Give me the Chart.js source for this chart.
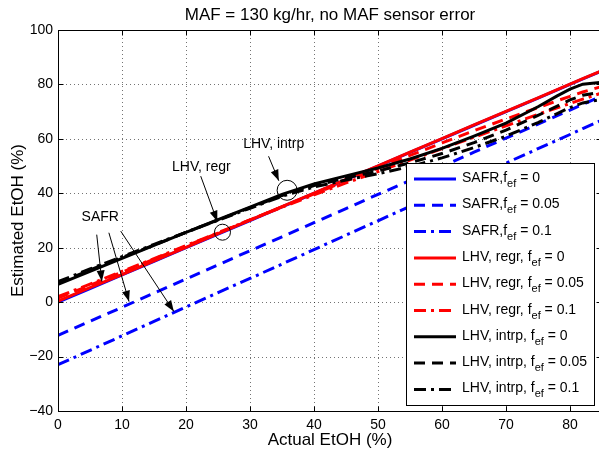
<!DOCTYPE html>
<html>
<head>
<meta charset="utf-8">
<script src="https://cdn.jsdelivr.net/npm/chart.js@4.4.1/dist/chart.umd.min.js"></script>
<style>
html, body { margin: 0; padding: 0; background: #fff; overflow: hidden; }
</style>
</head>
<body>
<canvas id="etohChart" width="604" height="457"></canvas>
<script>
// 横轴: 实际乙醇含量 (%)
const actualEtoh = [0, 5, 10, 15, 20, 25, 30, 35, 40, 45, 50, 55, 60, 65, 70, 75, 78, 80, 82, 85];

// SAFR 估计
const safrF0   = [0, 5, 10, 15, 20, 25, 30, 35, 40, 45, 50, 55, 60, 65, 70, 75, 78, 80, 82, 85];
const safrF005 = [-12.2, -7.0, -1.9, 3.3, 8.5, 13.7, 18.9, 24.0, 29.2, 34.4, 39.6, 44.7, 49.9, 55.1, 60.3, 65.4, 68.5, 70.6, 72.7, 75.8];
const safrF01  = [-23.0, -17.7, -12.4, -7.1, -1.8, 3.5, 8.7, 14.0, 19.3, 24.6, 29.9, 35.2, 40.5, 45.8, 51.1, 56.4, 59.5, 61.6, 63.8, 66.9];

// LHV 回归估计
const regrF0   = [0.4, 5.3, 10.1, 15.2, 20.1, 25.2, 30.1, 35.1, 40.1, 45.1, 50.1, 55.1, 60.1, 65.1, 70.1, 75.1, 78.1, 80.1, 82.1, 85.1];
const regrF005 = [1.5, 6.2, 11.0, 15.8, 20.6, 25.4, 30.2, 35.0, 39.8, 44.5, 49.2, 53.9, 58.5, 63.0, 67.3, 71.5, 74.0, 75.6, 77.2, 79.3];
const regrF01  = [2.0, 6.6, 11.3, 16.0, 20.8, 25.5, 30.2, 34.9, 39.4, 43.8, 48.0, 52.2, 56.4, 60.6, 64.8, 69.0, 71.4, 73.0, 74.6, 76.9];

// LHV 插值估计
const intrpF0   = [6.5, 11.3, 16.1, 20.9, 25.6, 30.3, 34.9, 39.6, 43.4, 46.4, 49.3, 52.6, 56.5, 61.0, 65.8, 71.8, 75.8, 78.3, 80.1, 80.8];
const intrpF005 = [7.0, 11.8, 16.4, 21.0, 25.6, 30.2, 34.7, 39.2, 42.8, 45.6, 48.2, 51.2, 54.6, 58.6, 63.2, 68.6, 72.0, 74.3, 76.0, 77.2];
const intrpF01  = [7.5, 12.2, 16.7, 21.2, 25.7, 30.1, 34.5, 38.9, 42.3, 44.9, 47.2, 49.8, 53.0, 56.8, 61.0, 66.0, 69.3, 71.5, 73.2, 74.5];

const xTickValues = [0, 10, 20, 30, 40, 50, 60, 70, 80];
const yTickValues = [-40, -20, 0, 20, 40, 60, 80, 100];

const FONT = '"Liberation Sans", Arial, Helvetica, sans-serif';
const DASH = [11, 7];
const DASHDOT = [12, 5, 3, 5];

function pts(ys) {
    return actualEtoh.map((x, i) => ({x: x, y: ys[i]}));
}

function series(label, ys, color, dash, order) {
    return {
        label: label,
        data: pts(ys),
        borderColor: color,
        borderWidth: 3,
        borderDash: dash,
        pointRadius: 0,
        tension: 0,
        fill: false,
        order: order
    };
}

// 网格、边框和内侧刻度
const frameGrid = {
    id: 'frameGrid',
    beforeDatasetsDraw(chart) {
        const {ctx, chartArea: a, scales: {x, y}} = chart;
        ctx.save();
        ctx.strokeStyle = 'rgba(0,0,0,0.55)';
        ctx.lineWidth = 1;
        ctx.setLineDash([1, 3]);
        xTickValues.forEach(v => {
            const px = Math.round(x.getPixelForValue(v)) + 0.5;
            ctx.beginPath();
            ctx.moveTo(px, a.top);
            ctx.lineTo(px, a.bottom);
            ctx.stroke();
        });
        yTickValues.forEach(v => {
            const py = Math.round(y.getPixelForValue(v)) + 0.5;
            ctx.beginPath();
            ctx.moveTo(a.left, py);
            ctx.lineTo(a.right, py);
            ctx.stroke();
        });
        ctx.restore();
    },
    afterDatasetsDraw(chart) {
        const {ctx, chartArea: a, scales: {x, y}} = chart;
        ctx.save();
        ctx.strokeStyle = '#000';
        ctx.lineWidth = 1;
        ctx.setLineDash([]);
        const L = Math.round(a.left) + 0.5, R = Math.round(a.right) - 0.5;
        const T = Math.round(a.top) + 0.5, B = Math.round(a.bottom) + 0.5;
        ctx.strokeRect(L, T, R - L, B - T);
        xTickValues.forEach(v => {
            const px = Math.round(x.getPixelForValue(v)) + 0.5;
            ctx.beginPath();
            ctx.moveTo(px, B); ctx.lineTo(px, B - 5);
            ctx.moveTo(px, T); ctx.lineTo(px, T + 5);
            ctx.stroke();
        });
        yTickValues.forEach(v => {
            const py = Math.round(y.getPixelForValue(v)) + 0.5;
            ctx.beginPath();
            ctx.moveTo(L, py); ctx.lineTo(L + 5, py);
            ctx.moveTo(R, py); ctx.lineTo(R - 5, py);
            ctx.stroke();
        });
        ctx.restore();
    }
};

// 文字标注: [文字, x, y]
const notes = [['SAFR', 6.6, 31.4], ['LHV, regr', 22.4, 49.5], ['LHV, intrp', 33.7, 57.9]];
// 箭头: [x1, y1, x2, y2]
const arrows = [
    [6.05, 24.8, 6.85, 7.6],
    [7.95, 25.5, 11.1, 0.2],
    [9.8, 26.1, 18.1, -3.4],
    [22.3, 46.3, 24.9, 29.6],
    [32.9, 53.6, 34.5, 44.6]
];
// 圆圈: [x, y, 半径px]
const circles = [[25.7, 25.7, 8], [35.8, 41.1, 10]];

const annotations = {
    id: 'annotations',
    afterDatasetsDraw(chart) {
        const {ctx, scales: {x, y}} = chart;
        ctx.save();
        ctx.fillStyle = '#000';
        ctx.strokeStyle = '#000';
        ctx.lineWidth = 1;
        ctx.setLineDash([]);
        ctx.font = '14px ' + FONT;
        ctx.textAlign = 'center';
        ctx.textBaseline = 'middle';
        notes.forEach(n => ctx.fillText(n[0], x.getPixelForValue(n[1]), y.getPixelForValue(n[2])));
        arrows.forEach(ar => {
            const x1 = x.getPixelForValue(ar[0]), y1 = y.getPixelForValue(ar[1]);
            const x2 = x.getPixelForValue(ar[2]), y2 = y.getPixelForValue(ar[3]);
            const ang = Math.atan2(y2 - y1, x2 - x1);
            ctx.beginPath();
            ctx.moveTo(x1, y1);
            ctx.lineTo(x2, y2);
            ctx.stroke();
            const len = 11, hw = 4;
            const bx = x2 - len * Math.cos(ang), by = y2 - len * Math.sin(ang);
            ctx.beginPath();
            ctx.moveTo(x2, y2);
            ctx.lineTo(bx + hw * Math.sin(ang), by - hw * Math.cos(ang));
            ctx.lineTo(bx - hw * Math.sin(ang), by + hw * Math.cos(ang));
            ctx.closePath();
            ctx.fill();
        });
        circles.forEach(c => {
            ctx.beginPath();
            ctx.arc(x.getPixelForValue(c[0]), y.getPixelForValue(c[1]), c[2], 0, Math.PI * 2);
            ctx.stroke();
        });
        ctx.restore();
    }
};

// 图例 (带下标 ef)
const legendBox = {
    id: 'legendBox',
    afterDraw(chart) {
        const ctx = chart.ctx;
        const left = 406.5, top = 163.5, right = 594.5, bottom = 405.5;
        ctx.save();
        ctx.fillStyle = '#fff';
        ctx.fillRect(left, top, right - left, bottom - top);
        ctx.strokeStyle = '#000';
        ctx.lineWidth = 1;
        ctx.setLineDash([]);
        ctx.strokeRect(left, top, right - left, bottom - top);
        chart.data.datasets.forEach((ds, i) => {
            const row = 179 + i * 26.3;
            ctx.strokeStyle = ds.borderColor;
            ctx.lineWidth = 3;
            ctx.setLineDash(ds.borderDash || []);
            ctx.beginPath();
            ctx.moveTo(414, row);
            ctx.lineTo(456, row);
            ctx.stroke();
            const parts = ds.label.split('_ef');
            ctx.fillStyle = '#000';
            ctx.textAlign = 'left';
            ctx.textBaseline = 'alphabetic';
            ctx.font = '14px ' + FONT;
            let tx = 462;
            ctx.fillText(parts[0], tx, row + 3);
            tx += ctx.measureText(parts[0]).width;
            ctx.font = '11px ' + FONT;
            ctx.fillText('ef', tx, row + 8);
            tx += ctx.measureText('ef').width;
            ctx.font = '14px ' + FONT;
            ctx.fillText(parts[1], tx, row + 3);
        });
        ctx.restore();
    }
};

Chart.defaults.font.family = FONT;
Chart.defaults.color = '#000';

const ctx = document.getElementById('etohChart').getContext('2d');
const etohChart = new Chart(ctx, {
    type: 'line',
    data: {
        datasets: [
            series('SAFR,f_ef = 0', safrF0, '#0000ff', [], 3),
            series('SAFR,f_ef = 0.05', safrF005, '#0000ff', DASH, 3),
            series('SAFR,f_ef = 0.1', safrF01, '#0000ff', DASHDOT, 3),
            series('LHV, regr, f_ef = 0', regrF0, '#ff0000', [], 2),
            series('LHV, regr, f_ef = 0.05', regrF005, '#ff0000', DASH, 2),
            series('LHV, regr, f_ef = 0.1', regrF01, '#ff0000', DASHDOT, 2),
            series('LHV, intrp, f_ef = 0', intrpF0, '#000000', [], 1),
            series('LHV, intrp, f_ef = 0.05', intrpF005, '#000000', DASH, 1),
            series('LHV, intrp, f_ef = 0.1', intrpF01, '#000000', DASHDOT, 1)
        ]
    },
    options: {
        responsive: false,
        animation: false,
        layout: {padding: {left: 0, right: 2, top: 0, bottom: 0}},
        scales: {
            x: {
                type: 'linear',
                min: 0,
                max: 85,
                afterBuildTicks: scale => { scale.ticks = xTickValues.map(v => ({value: v})); },
                afterFit: scale => { scale.height = 46; },
                grid: {display: false, drawTicks: false},
                border: {display: false},
                ticks: {font: {size: 14}, padding: 6, maxRotation: 0},
                title: {display: true, text: 'Actual EtOH (%)', font: {size: 17}, padding: {top: 0, bottom: 6}}
            },
            y: {
                type: 'linear',
                min: -40,
                max: 100,
                afterBuildTicks: scale => { scale.ticks = yTickValues.map(v => ({value: v})); },
                afterFit: scale => { scale.width = 58; },
                grid: {display: false, drawTicks: false},
                border: {display: false},
                ticks: {
                    font: {size: 14},
                    padding: 5,
                    callback: v => v < 0 ? '\u2212' + Math.abs(v) : String(v)
                },
                title: {display: true, text: 'Estimated EtOH (%)', font: {size: 17}, padding: {top: 8, bottom: 0}}
            }
        },
        plugins: {
            legend: {display: false},
            tooltip: {enabled: false},
            title: {
                display: true,
                fullSize: false,
                text: 'MAF = 130 kg/hr, no MAF sensor error',
                font: {size: 17, weight: 'normal'},
                color: '#000',
                padding: {top: 5, bottom: 4.6}
            }
        }
    },
    plugins: [frameGrid, annotations, legendBox]
});
</script>
</body>
</html>
